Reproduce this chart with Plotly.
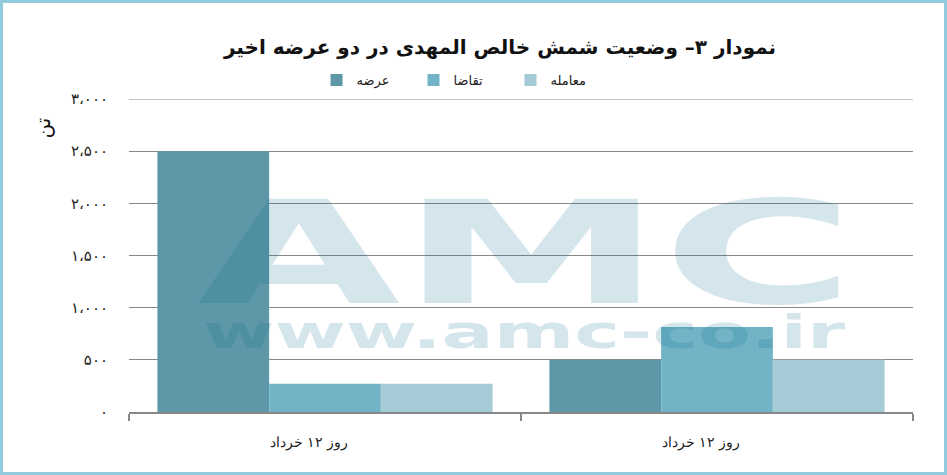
import base64
import plotly.graph_objects as go

categories = ["روز ۱۲ خرداد", "روز ۱۲ خرداد"]
series_names = ["عرضه", "تقاضا", "معامله"]
supply = [2500, 500]
demand = [270, 815]
trade = [270, 500]
colors = ["#5e98a8", "#72b4c6", "#a5cbd6"]
y_tickvals = [0, 500, 1000, 1500, 2000, 2500, 3000]
y_ticktext = ["۰", "۵۰۰", "۱،۰۰۰", "۱،۵۰۰", "۲،۰۰۰", "۲،۵۰۰", "۳،۰۰۰"]
title_text = "نمودار ۳– وضعیت شمش خالص المهدی در دو عرضه اخیر"
y_title = "تن"

W, H = 947, 475
L, R, T, B = 129, 34, 99, 63
PW, PH = W - L - R, H - T - B

def px_x(px):
    return (px - L) / PW

def px_y(py):
    return (H - B - py) / PH

fig = go.Figure()
x_idx = list(range(len(categories)))
for name, vals, col in zip(series_names, [supply, demand, trade], colors):
    fig.add_trace(go.Bar(x=x_idx, y=vals, name=name, marker=dict(color=col, line=dict(width=0))))

# watermark as stretched SVG text
svg = (
    '<svg xmlns="http://www.w3.org/2000/svg" width="670" height="170" viewBox="0 0 670 170">'
    '<g fill="rgb(0,100,136)" fill-opacity="0.17" font-family="DejaVu Sans" font-weight="bold">'
    '<text x="7" y="113" font-size="143" textLength="658" lengthAdjust="spacingAndGlyphs">AMC</text>'
    '<text x="13" y="158" font-size="46" textLength="642" lengthAdjust="spacingAndGlyphs">www.amc-co.ir</text>'
    '</g></svg>'
)
src = "data:image/svg+xml;base64," + base64.b64encode(svg.encode("utf-8")).decode("ascii")
fig.add_layout_image(dict(source=src, xref="paper", yref="paper", x=px_x(190), y=px_y(190),
                          sizex=670 / PW, sizey=170 / PH, sizing="stretch", xanchor="left",
                          yanchor="top", layer="above", opacity=1))

# border
fig.add_shape(type="rect", xref="paper", yref="paper", x0=px_x(1.5), x1=px_x(W - 1.5),
              y0=px_y(H - 1.5), y1=px_y(1.5), line=dict(color="#92cbdd", width=3),
              fillcolor="rgba(0,0,0,0)", layer="below")
# top gridline (at the range edge)
fig.add_shape(type="line", xref="paper", yref="y", x0=0, x1=1, y0=y_tickvals[-1], y1=y_tickvals[-1],
              line=dict(color="#888", width=1), layer="below")

fig.add_annotation(text=y_title, xref="paper", yref="paper", x=px_x(28), y=px_y(116),
                   showarrow=False, textangle=-90, font=dict(family="DejaVu Sans", size=20, color="#111"))

fig.update_layout(
    width=W, height=H,
    margin=dict(l=L, r=R, t=T, b=B, pad=0),
    paper_bgcolor="white", plot_bgcolor="white",
    barmode="group", bargap=0.145, bargroupgap=0,
    title=dict(text="<b>" + title_text + "</b>", x=500 / W, xanchor="center",
               y=1 - 47 / H, yanchor="middle",
               font=dict(family="DejaVu Sans", size=20, color="#111")),
    legend=dict(orientation="h", x=px_x(462), xanchor="center", y=px_y(80), yanchor="middle",
                font=dict(family="DejaVu Sans", size=13, color="#222"), traceorder="normal",
                entrywidth=52, entrywidthmode="pixels",
                bgcolor="rgba(0,0,0,0)"),
    showlegend=True,
)
fig.update_xaxes(range=[-0.5, len(categories) - 0.5], tickvals=x_idx, ticktext=categories,
                 showgrid=False, showline=True, linecolor="#888", linewidth=1.5, ticks="",
                 zeroline=False, ticklabelstandoff=16, ticklabelshift=-16,
                 minor=dict(tick0=-0.5, dtick=1, ticks="outside", ticklen=7, tickcolor="#888",
                            tickwidth=1.5, showgrid=False),
                 tickfont=dict(family="DejaVu Serif", size=14, color="#222"))
fig.update_yaxes(range=[0, 3000], tickvals=y_tickvals, ticktext=y_ticktext, showgrid=True,
                 gridcolor="#888", gridwidth=1, zeroline=False, showline=False, ticks="",
                 ticklabelstandoff=20,
                 tickfont=dict(family="DejaVu Sans", size=15, color="#222"))

fig.write_html("out.html", config={"displayModeBar": False},
               post_script="document.body.style.margin='0';")
